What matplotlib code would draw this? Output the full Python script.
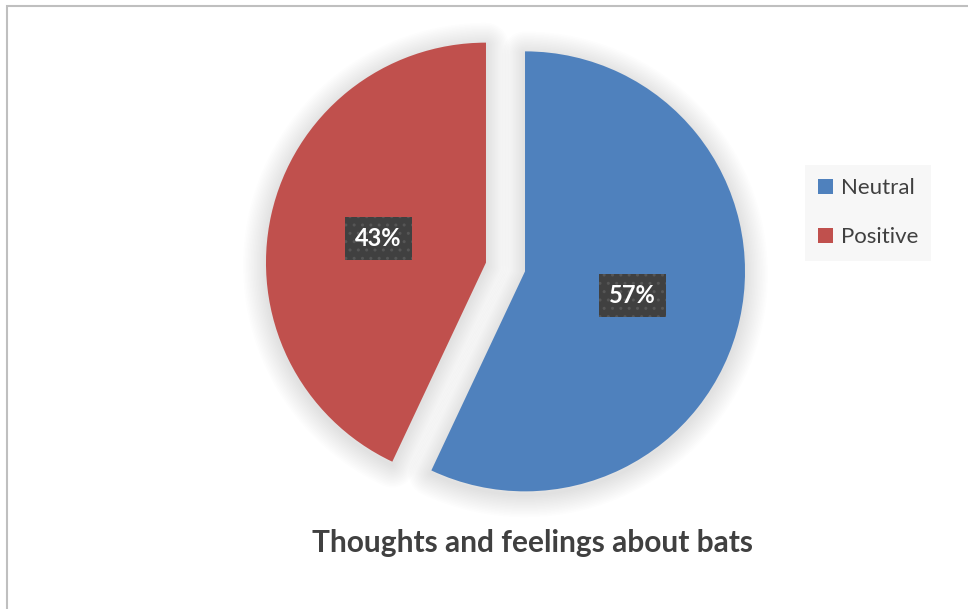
import math
import matplotlib.pyplot as plt
from matplotlib.patches import Wedge

plt.rcParams['font.family'] = ['Lato', 'DejaVu Sans']

categories = ['Neutral', 'Positive']
shares = [57, 43]
colors = ['#4F81BD', '#C0504D']
title = 'Thoughts and feelings about bats'

W, H = 968, 609
fig = plt.figure(figsize=(W / 100, H / 100), dpi=100)
ax = fig.add_axes([0, 0, 1, 1])

cx, cy, r = 505.5, H - 267, 220
explode = [20, 20]  # matplotlib explode is in data units here

# soft glow-like shadow behind the slices
start = 90
for v, e in zip(shares, explode):
    span = 360 * v / sum(shares)
    mid = math.radians(start - span / 2)
    ox = cx + e * math.cos(mid)
    oy = cy + e * math.sin(mid) - 3
    for k in range(1, 16):
        ax.add_patch(Wedge((ox, oy), r, start - span, start, facecolor='none',
                           edgecolor='black', alpha=0.008, linewidth=k * 2.2,
                           joinstyle='round'))
    start -= span

wedges, texts, autotexts = ax.pie(
    shares, colors=colors, explode=explode, startangle=90, counterclock=False,
    center=(cx, cy), radius=r, autopct='%1.0f%%', pctdistance=0.5,
    wedgeprops=dict(linewidth=0),
    textprops=dict(color='white', fontsize=17, fontweight='bold'))

for t in autotexts:
    t.set_bbox(dict(boxstyle='square,pad=0.42', facecolor='#404040',
                    edgecolor='#565656', linewidth=0, hatch='..'))

ax.set_xlim(0, W)
ax.set_ylim(0, H)
ax.set_aspect('equal')
ax.axis('off')

ax.text(532, H - 543, title, ha='center', va='center', fontsize=21.5,
        fontweight='bold', color='#404040')

leg = ax.legend(wedges, categories, loc='upper left',
                bbox_to_anchor=(805 / W, 1 - 165 / H), bbox_transform=fig.transFigure,
                borderaxespad=0, fontsize=16, handlelength=0.65, handleheight=0.65,
                handletextpad=0.35, labelspacing=1.3, borderpad=0.6, fancybox=False,
                frameon=True, facecolor='#f7f7f7', edgecolor='none', framealpha=1)
for t in leg.get_texts():
    t.set_color('#404040')

# chart area border (only left/top visible in the frame)
ax.plot([7, 7, W + 5], [-5, H - 6, H - 6], color='#bfbfbf', linewidth=1.5,
        solid_joinstyle='miter')

fig.savefig('out.png', dpi=100)
